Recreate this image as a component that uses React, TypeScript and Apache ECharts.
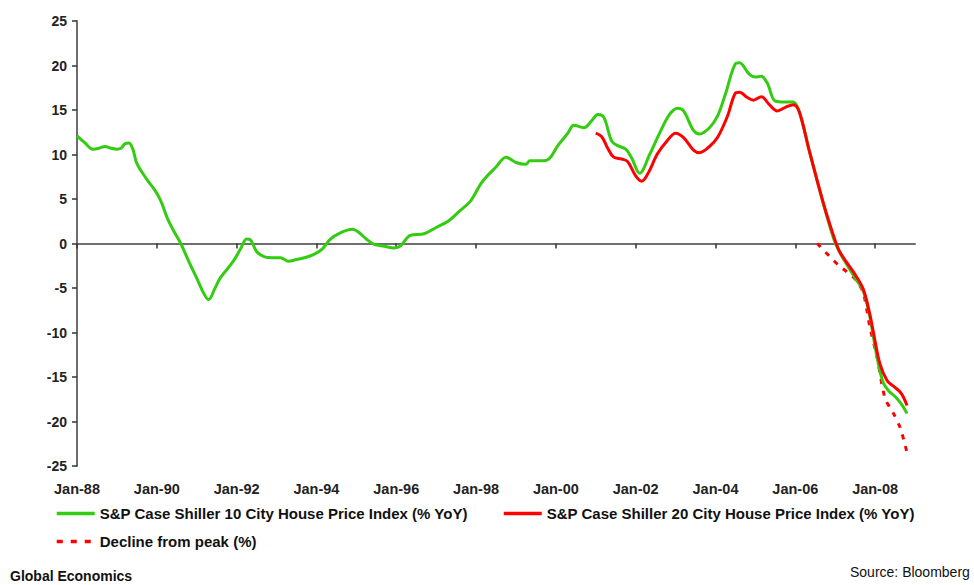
import React, { useEffect, useRef } from "react";
import * as echarts from "echarts";

// Decimal-year positions and values (% YoY)
const tenCityX = [
  1988.0, 1988.2, 1988.4, 1988.55, 1988.7, 1988.85, 1989.0, 1989.1, 1989.2, 1989.3,
  1989.4, 1989.5, 1989.75, 1989.95, 1990.1, 1990.25, 1990.4, 1990.6, 1990.8, 1991.0,
  1991.2, 1991.3, 1991.45, 1991.6, 1991.9, 1992.1, 1992.25, 1992.35, 1992.5, 1992.7,
  1992.9, 1993.1, 1993.3, 1993.5, 1993.7, 1993.95, 1994.15, 1994.35, 1994.6, 1994.9,
  1995.05, 1995.25, 1995.45, 1995.7, 1995.95, 1996.1, 1996.35, 1996.7, 1997.0, 1997.3,
  1997.6, 1997.85, 1998.15, 1998.5, 1998.75, 1999.0, 1999.25, 1999.35, 1999.7, 1999.85,
  2000.05, 2000.3, 2000.45, 2000.7, 2000.9, 2001.05, 2001.2, 2001.4, 2001.55, 2001.75,
  2001.9, 2002.1, 2002.35, 2002.6, 2002.85, 2003.05, 2003.2, 2003.45, 2003.6, 2003.85,
  2004.05, 2004.25, 2004.5, 2004.6, 2004.85, 2005.0, 2005.15, 2005.3, 2005.5, 2005.75,
  2005.95, 2006.1, 2006.35, 2006.7, 2006.95, 2007.1, 2007.3, 2007.5, 2007.7, 2007.85,
  2008.05, 2008.2, 2008.35, 2008.5, 2008.65, 2008.8,
];
const tenCityValues = [
  12.1, 11.3, 10.6, 10.7, 10.9, 10.7, 10.6, 10.7, 11.2, 11.3,
  10.6, 9.0, 7.2, 6.0, 4.8, 3.0, 1.6, 0.0, -2.0, -3.9,
  -5.8, -6.3, -5.1, -3.8, -2.1, -0.6, 0.5, 0.4, -0.9, -1.5,
  -1.6, -1.6, -2.0, -1.8, -1.6, -1.2, -0.6, 0.5, 1.2, 1.6,
  1.3, 0.5, -0.1, -0.3, -0.5, -0.3, 0.9, 1.1, 1.8, 2.5,
  3.7, 4.7, 6.9, 8.6, 9.7, 9.1, 8.9, 9.3, 9.3, 9.6,
  11.0, 12.4, 13.3, 13.0, 13.8, 14.5, 14.2, 11.5, 11.0, 10.6,
  9.6, 7.9, 10.0, 12.4, 14.5, 15.2, 14.9, 12.7, 12.3, 13.0,
  14.3, 16.8, 20.2, 20.3, 19.0, 18.7, 18.8, 18.0, 16.0, 15.9,
  15.9, 14.8, 10.5, 4.5, 0.7, -0.9, -2.4, -3.9, -5.3, -7.8,
  -12.8, -15.6, -16.6, -17.2, -18.0, -19.1,
];

const twentyCityX = [
  2001.0, 2001.15, 2001.3, 2001.45, 2001.65, 2001.8, 2002.0, 2002.15, 2002.3, 2002.55,
  2002.8, 2003.0, 2003.2, 2003.45, 2003.6, 2003.85, 2004.05, 2004.3, 2004.5, 2004.6,
  2004.8, 2004.95, 2005.15, 2005.35, 2005.55, 2005.75, 2005.95, 2006.1, 2006.35, 2006.7,
  2006.95, 2007.1, 2007.3, 2007.5, 2007.7, 2007.85, 2007.95, 2008.12, 2008.3, 2008.45,
  2008.65, 2008.8,
];
const twentyCityValues = [
  12.4, 12.0, 10.7, 9.7, 9.5, 9.2, 7.6, 7.0, 7.8, 10.1,
  11.6, 12.4, 11.9, 10.5, 10.2, 10.9, 11.9, 14.3, 16.9, 17.0,
  16.4, 16.1, 16.5, 15.6, 14.9, 15.3, 15.6, 14.8, 10.4, 4.6,
  1.0, -0.8, -2.2, -3.5, -5.1, -7.6, -9.8, -13.5, -15.4, -16.0,
  -16.8, -18.2,
];

const declineX = [
  2006.55, 2006.85, 2007.1, 2007.3, 2007.5, 2007.7, 2007.87, 2008.05, 2008.25, 2008.45,
  2008.63, 2008.72, 2008.8,
];
const declineValues = [
  0.0, -1.4, -2.5, -3.2, -4.0, -5.5, -9.4, -12.8, -17.4, -19.0,
  -20.7, -22.1, -23.5,
];

const tickYears = [1988, 1990, 1992, 1994, 1996, 1998, 2000, 2002, 2004, 2006, 2008];

const seriesNames = [
  "S&P Case Shiller 10 City House Price Index (% YoY)",
  "S&P Case Shiller 20 City House Price Index (% YoY)",
  "Decline from peak (%)",
];

const GREEN = "#33cc11";
const RED = "#ff0000";
const FONT = "Liberation Sans, Arial, sans-serif";

const zip = (xs: number[], ys: number[]) => xs.map((x, i) => [x, ys[i]]);

export default function App() {
  const ref = useRef<HTMLDivElement>(null);

  useEffect(() => {
    if (!ref.current) return;
    const chart = echarts.init(ref.current, undefined, { renderer: "svg" });
    const fmt = (v: number) => "Jan-" + String(Math.round(v) % 100).padStart(2, "0");
    const legendText = {
      fontFamily: FONT,
      fontSize: 15,
      fontWeight: "bold" as const,
      color: "#111",
    };
    const legendBase = {
      itemWidth: 38,
      itemHeight: 14,
      padding: 0,
      itemStyle: { opacity: 0 },
      textStyle: legendText,
    };
    chart.setOption({
      animation: false,
      backgroundColor: "#ffffff",
      grid: { left: 77, right: 59, top: 21, bottom: 119, outerBoundsMode: "none" },
      xAxis: [
        {
          type: "value",
          min: 1988,
          max: 2009,
          position: "bottom",
          axisLine: { show: true, onZero: true, lineStyle: { color: "#6e6e6e", width: 2 } },
          axisTick: {
            show: true,
            customValues: tickYears,
            length: 5,
            inside: false,
            lineStyle: { color: "#333", width: 1.5 },
          },
          axisLabel: { show: false },
          splitLine: { show: false },
        },
        {
          type: "value",
          min: 1988,
          max: 2009,
          position: "bottom",
          axisLine: { show: false, onZero: false },
          axisTick: { show: false },
          axisLabel: {
            show: true,
            customValues: tickYears,
            formatter: fmt,
            margin: 15,
            fontFamily: FONT,
            fontSize: 14.5,
            fontWeight: "bold",
            color: "#222",
          },
          splitLine: { show: false },
        },
      ],
      yAxis: {
        type: "value",
        min: -25,
        max: 25,
        interval: 5,
        axisLine: { show: true, onZero: false, lineStyle: { color: "#6e6e6e", width: 2 } },
        axisTick: { show: true, length: 5, lineStyle: { color: "#333", width: 1.5 } },
        axisLabel: {
          margin: 10,
          fontFamily: FONT,
          fontSize: 14,
          fontWeight: "bold",
          color: "#222",
        },
        splitLine: { show: false },
      },
      legend: [
        { ...legendBase, left: 55, top: 506, data: [seriesNames[0]], lineStyle: { width: 3.5 } },
        { ...legendBase, left: 502, top: 506, data: [seriesNames[1]], lineStyle: { width: 3.5 } },
        {
          ...legendBase,
          left: 55,
          top: 534,
          data: [seriesNames[2]],
          lineStyle: { width: 3.5, type: [6, 8], cap: "butt" },
        },
      ],
      series: [
        {
          name: seriesNames[0],
          type: "line",
          xAxisIndex: 0,
          data: zip(tenCityX, tenCityValues),
          smooth: 0.35,
          symbol: "none",
          lineStyle: { color: GREEN, width: 3 },
          itemStyle: { color: GREEN },
          z: 2,
        },
        {
          name: seriesNames[1],
          type: "line",
          xAxisIndex: 0,
          data: zip(twentyCityX, twentyCityValues),
          smooth: 0.35,
          symbol: "none",
          lineStyle: { color: RED, width: 3 },
          itemStyle: { color: RED },
          z: 3,
        },
        {
          name: seriesNames[2],
          type: "line",
          xAxisIndex: 0,
          data: zip(declineX, declineValues),
          smooth: 0.3,
          symbol: "none",
          lineStyle: { color: RED, width: 3, type: [5, 7], cap: "butt" },
          itemStyle: { color: RED },
          z: 1,
        },
      ],
      graphic: [
        {
          type: "text",
          left: 10,
          top: 569,
          style: {
            text: "Global Economics",
            fontFamily: FONT,
            fontSize: 14,
            fontWeight: "bold",
            fill: "#111",
          },
        },
        {
          type: "text",
          left: 850,
          top: 565,
          style: {
            text: "Source: Bloomberg",
            fontFamily: FONT,
            fontSize: 14,
            fill: "#111",
          },
        },
      ],
    });
    return () => chart.dispose();
  }, []);

  return (
    <div
      ref={ref}
      style={{ position: "fixed", left: 0, top: 0, width: 974, height: 585, background: "#fff" }}
    />
  );
}
